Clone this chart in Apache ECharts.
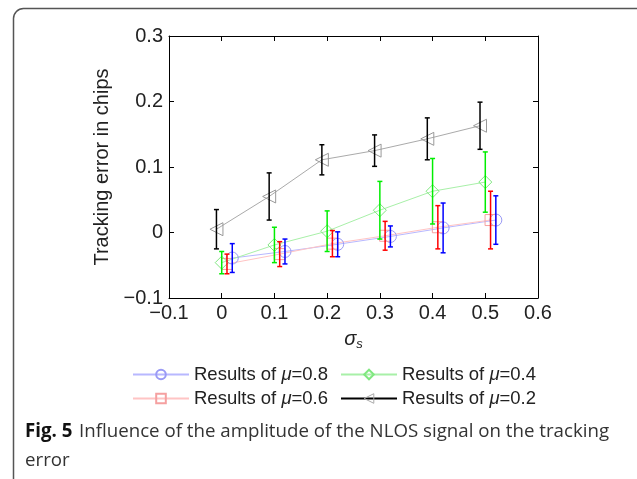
<!DOCTYPE html>
<html>
<head>
<meta charset="utf-8">
<script src="https://cdn.jsdelivr.net/npm/echarts@6/dist/echarts.min.js"></script>
<style>
  html, body { margin: 0; padding: 0; background: #fff; }
  #chart { width: 637px; height: 479px; }
</style>
</head>
<body>
<div id="chart"></div>
<script>
// x positions (sigma_s, slightly shifted per series as in the figure)
const xMu08 = [0.02, 0.12, 0.22, 0.32, 0.42, 0.52];
const xMu06 = [0.01, 0.11, 0.21, 0.31, 0.41, 0.51];
const xMu04 = [0.0, 0.1, 0.2, 0.3, 0.4, 0.5];
const xMu02 = [-0.01, 0.09, 0.19, 0.29, 0.39, 0.49];

// mean tracking error (chips)
const meanMu08 = [-0.039, -0.029, -0.018, -0.006, 0.007, 0.019];
const meanMu06 = [-0.048, -0.033, -0.017, -0.005, 0.008, 0.019];
const meanMu04 = [-0.046, -0.019, 0.002, 0.034, 0.063, 0.077];
const meanMu02 = [0.005, 0.055, 0.111, 0.125, 0.143, 0.163];

// half length of error bars
const errMu08 = [0.022, 0.019, 0.019, 0.016, 0.038, 0.037];
const errMu06 = [0.015, 0.019, 0.020, 0.022, 0.033, 0.044];
const errMu04 = [0.017, 0.027, 0.031, 0.044, 0.050, 0.046];
const errMu02 = [0.030, 0.036, 0.023, 0.024, 0.032, 0.036];

const names = ['Results of μ=0.8', 'Results of μ=0.6', 'Results of μ=0.4', 'Results of μ=0.2'];

const FONT = '"Liberation Sans", Arial, sans-serif';
const CAP_FONT = '"Open Sans", sans-serif';

function pts(xs, ys) {
  return xs.map((x, i) => [x, ys[i]]);
}
function errPts(xs, ys, es) {
  return xs.map((x, i) => [x, ys[i], es[i]]);
}
function fmtTick(v) {
  const r = Math.round(v * 10) / 10;
  if (r === 0) return '0';
  return r < 0 ? '\u2212' + Math.abs(r) : String(r);
}

function lineSeries(name, data, lineColor, symColor, symbol, size, rotate) {
  return {
    name: name,
    type: 'line',
    data: data,
    symbol: symbol,
    symbolSize: size,
    symbolRotate: rotate || 0,
    showAllSymbol: true,
    lineStyle: { color: lineColor, width: 1 },
    itemStyle: { color: 'rgba(255,255,255,0)', borderColor: symColor, borderWidth: 1 },
    emphasis: { disabled: true },
    z: 2
  };
}

function errSeries(data, color) {
  return {
    type: 'custom',
    data: data,
    z: 3,
    silent: true,
    renderItem: function (params, api) {
      const x = api.value(0), y = api.value(1), e = api.value(2);
      const top = api.coord([x, y + e]);
      const bot = api.coord([x, y - e]);
      const w = 2.5;
      const style = { stroke: color, lineWidth: 1.5 };
      return {
        type: 'group',
        children: [
          { type: 'line', shape: { x1: top[0], y1: top[1], x2: bot[0], y2: bot[1] }, style: style },
          { type: 'line', shape: { x1: top[0] - w, y1: top[1], x2: top[0] + w, y2: top[1] }, style: style },
          { type: 'line', shape: { x1: bot[0] - w, y1: bot[1], x2: bot[0] + w, y2: bot[1] }, style: style }
        ]
      };
    }
  };
}

const legendText = {
  fontFamily: FONT,
  fontSize: 18.5,
  color: '#222',
  rich: {
    n: { fontFamily: FONT, fontSize: 18.5, color: '#222' },
    m: { fontFamily: FONT, fontSize: 18.5, color: '#222', fontStyle: 'italic' }
  }
};
function legendFmt(name) {
  const parts = name.split('μ');
  return '{n|' + parts[0] + '}{m|μ}{n|' + parts[1] + '}';
}

const axisCommon = {
  type: 'value',
  splitLine: { show: false },
  axisLine: { show: true, onZero: false, lineStyle: { color: '#000', width: 1 } },
  axisTick: { show: true, inside: true, length: 5, lineStyle: { color: '#000' } }
};

const option = {
  backgroundColor: '#fff',
  animation: false,
  grid: { left: 169, right: 99, top: 36, bottom: 181 },
  xAxis: [
    Object.assign({}, axisCommon, {
      min: -0.1, max: 0.6, interval: 0.1, position: 'bottom',
      axisLabel: { fontFamily: FONT, fontSize: 20, color: '#222', margin: 5, formatter: fmtTick },
      name: '{s|σ}{sub|s}',
      nameLocation: 'middle',
      nameGap: 30,
      nameTextStyle: {
        rich: {
          s: { fontFamily: FONT, fontSize: 20, fontStyle: 'italic', color: '#222' },
          sub: { fontFamily: FONT, fontSize: 13, fontStyle: 'italic', color: '#222', padding: [10, 0, 0, 0] }
        }
      }
    }),
    Object.assign({}, axisCommon, {
      min: -0.1, max: 0.6, interval: 0.1, position: 'top',
      axisLabel: { show: false }
    })
  ],
  yAxis: [
    Object.assign({}, axisCommon, {
      min: -0.1, max: 0.3, interval: 0.1, position: 'left',
      axisLabel: { fontFamily: FONT, fontSize: 20, color: '#222', margin: 6, formatter: fmtTick },
      name: 'Tracking error in chips',
      nameLocation: 'middle',
      nameGap: 54,
      nameTextStyle: { fontFamily: FONT, fontSize: 20, color: '#222' }
    }),
    Object.assign({}, axisCommon, {
      min: -0.1, max: 0.3, interval: 0.1, position: 'right',
      axisLabel: { show: false }
    })
  ],
  legend: [
    {
      left: 132, top: 365, orient: 'vertical', itemGap: 5, padding: 0,
      itemWidth: 56, itemHeight: 12,
      textStyle: legendText, formatter: legendFmt,
      data: [names[0], names[1]]
    },
    {
      left: 340, top: 365, orient: 'vertical', itemGap: 5, padding: 0,
      itemWidth: 56, itemHeight: 12,
      textStyle: legendText, formatter: legendFmt,
      data: [
        names[2],
        {
          name: names[3],
          lineStyle: { color: '#000' },
          itemStyle: { color: 'rgba(255,255,255,0)', borderColor: '#aaaaaa', borderWidth: 1 }
        }
      ]
    }
  ],
  series: [
    lineSeries(names[0], pts(xMu08, meanMu08), '#b8b8ff', '#9a9af5', 'circle', 12),
    lineSeries(names[1], pts(xMu06, meanMu06), '#ffc4c4', '#f5a0a0', 'rect', 11),
    lineSeries(names[2], pts(xMu04, meanMu04), '#a8f0a8', '#80e880', 'diamond', 13),
    lineSeries(names[3], pts(xMu02, meanMu02), '#aaaaaa', '#999999', 'triangle', 13, 90),
    errSeries(errPts(xMu04, meanMu04, errMu04), '#00ee00'),
    errSeries(errPts(xMu02, meanMu02, errMu02), '#000000'),
    errSeries(errPts(xMu06, meanMu06, errMu06), '#ff0000'),
    errSeries(errPts(xMu08, meanMu08, errMu08), '#0000ff')
  ],
  graphic: [
    {
      type: 'rect',
      shape: { x: 13.5, y: 8.5, width: 640, height: 500, r: 10 },
      style: { fill: 'none', stroke: '#555', lineWidth: 1.5 },
      z: 0
    },
    {
      type: 'text',
      left: 25, top: 422,
      style: {
        text: '{b|Fig. 5}  {t|Influence of the amplitude of the NLOS signal on the tracking}',
        rich: {
          b: { fontFamily: CAP_FONT, fontSize: 18.7, fontWeight: 'bold', fill: '#111' },
          t: { fontFamily: CAP_FONT, fontSize: 18.7, fill: '#333' }
        }
      }
    },
    {
      type: 'text',
      left: 25, top: 451,
      style: { text: 'error', fontFamily: CAP_FONT, fontSize: 18.7, fill: '#333' }
    }
  ]
};

const chart = echarts.init(document.getElementById('chart'));
chart.setOption(option);
</script>
</body>
</html>
